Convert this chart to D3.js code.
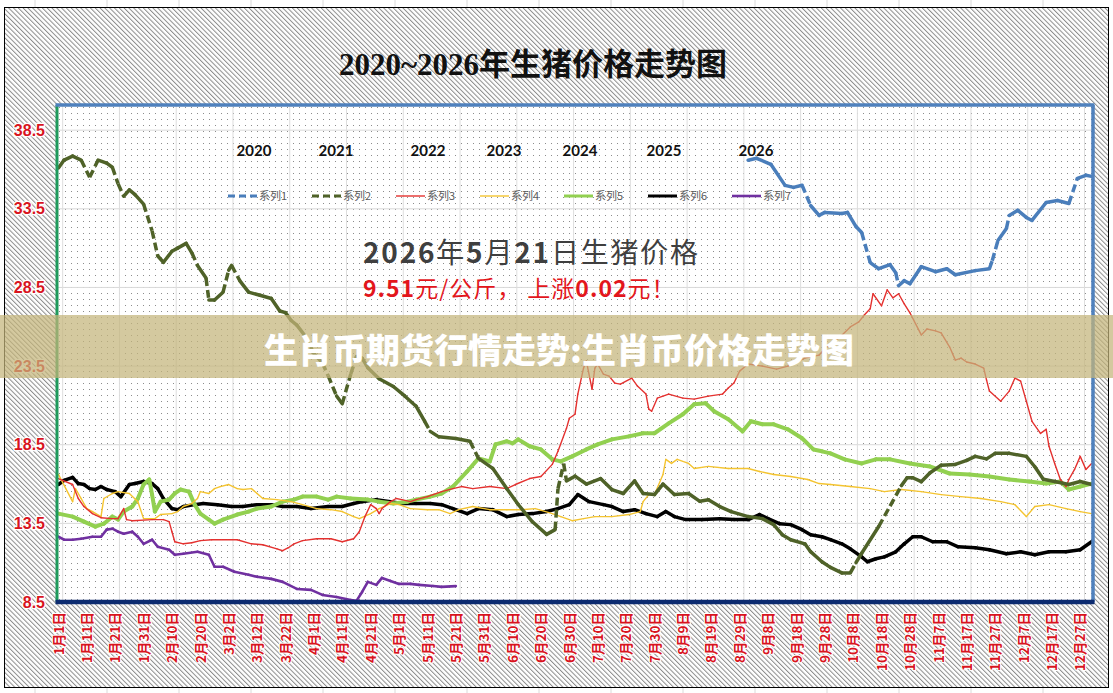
<!DOCTYPE html>
<html>
<head>
<meta charset="utf-8">
<script src="https://cdn.jsdelivr.net/npm/d3@7"></script>
<style>
  body { margin: 0; background: #fff; }
  svg { display: block; }
</style>
</head>
<body>
<div id="vis"></div>
<script>
// x labels every 10 days (365-day year)
const xLabels = ["1月1日","1月11日","1月21日","1月31日","2月10日","2月20日","3月2日","3月12日","3月22日",
    "4月1日","4月11日","4月21日","5月1日","5月11日","5月21日","5月31日","6月10日","6月20日","6月30日",
    "7月10日","7月20日","7月30日","8月9日","8月19日","8月29日","9月8日","9月18日","9月28日",
    "10月8日","10月18日","10月28日","11月7日","11月17日","11月27日","12月7日","12月17日","12月27日"];
const yTicks = [8.5, 13.5, 18.5, 23.5, 28.5, 33.5, 38.5];
const seriesNames = ["系列1","系列2","系列3","系列4","系列5","系列6","系列7"];
const yearLabels = ["2020","2021","2022","2023","2024","2025","2026"];

// [day of year, price]
const s1 = [[243,36.59],[246,36.71],[251,36.33],[256,34.99],[259,34.86],[262,35.0],[265,33.71],[268,33.08],[270,33.27],[276,33.2],[278,33.27],[281,32.37],[283,31.99],[286,30.08],[289,29.69],[293,29.95],[295,29.44],[296,28.61],[298,28.93],[300,28.74],[304,29.82],[309,29.5],[313,29.69],[316,29.31],[323,29.57],[328,29.69],[329,30.2],[331,31.48],[334,32.25],[335,33.08],[338,33.4],[341,32.95],[343,32.76],[348,33.9],[352,34.03],[356,33.84],[359,35.44],[362,35.63],[364,35.56]];
const s2 = [[0,36.1],[2,36.6],[5,36.85],[8,36.6],[11,35.5],[14,36.6],[17,36.4],[19,36.14],[21,35.1],[23,34.3],[25,34.7],[27,34.4],[30,33.8],[33,32.1],[35,30.5],[37,30.1],[40,30.8],[42,31.0],[45,31.3],[47,30.7],[49,29.9],[52,29.1],[53,27.7],[55,27.7],[58,28.2],[60,29.6],[61,29.9],[64,28.9],[67,28.2],[71,28.0],[75,27.8],[78,27.0],[80,26.9],[82,26.4],[84,26.1],[87,25.4],[90,24.3],[93,23.7],[95,22.9],[98,21.6],[100,21.1],[103,23.0],[105,24.1],[107,24.0],[109,23.4],[113,22.7],[118,22.2],[122,21.6],[126,20.95],[129,20.0],[131,19.35],[134,19.0],[140,18.9],[145,18.72],[148,17.63],[153,17.0],[158,15.7],[162,14.7],[167,13.6],[172,12.8],[175,13.1],[176,15.7],[178,17.3],[179,16.2],[182,16.5],[186,16.0],[191,16.35],[195,15.65],[199,15.4],[203,16.2],[206,15.4],[210,15.33],[213,16.0],[217,15.33],[222,15.4],[226,14.9],[229,15.0],[233,14.57],[237,14.25],[243,13.93],[248,13.8],[252,13.42],[255,12.78],[258,12.46],[263,12.2],[265,11.7],[269,11.06],[272,10.7],[276,10.35],[279,10.35],[281,11.0],[283,11.6],[289,13.3],[293,14.6],[297,15.9],[299,16.4],[301,16.4],[304,16.15],[307,16.7],[311,17.2],[316,17.25],[320,17.5],[323,17.76],[327,17.6],[330,17.95],[335,17.95],[341,17.76],[344,17.1],[347,16.3],[351,16.16],[356,15.97],[360,16.16],[364,15.97]];
const s3 = [[0,16.35],[5,15.97],[7,15.08],[9,14.57],[12,14.12],[15,13.86],[19,13.8],[21,13.8],[23,14.44],[24,13.74],[26,13.67],[33,13.74],[37,13.74],[39,13.61],[40,12.97],[41,12.33],[44,12.2],[47,12.27],[50,12.4],[54,12.46],[63,12.46],[68,12.2],[72,12.14],[77,11.88],[79,11.76],[81,11.95],[83,12.2],[86,12.4],[91,12.52],[96,12.52],[100,12.33],[104,12.52],[106,12.97],[108,13.93],[110,14.69],[112,14.44],[113,14.12],[114,14.44],[117,14.88],[119,15.08],[121,15.01],[124,14.88],[126,15.01],[130,15.2],[132,15.33],[135,15.52],[139,15.71],[142,15.84],[146,15.71],[152,15.84],[158,15.71],[161,15.97],[166,16.35],[170,16.48],[174,17.25],[176,18.08],[179,19.54],[180,20.18],[182,20.44],[183,21.72],[185,23.37],[186,23.82],[188,22.03],[189,23.37],[190,23.63],[192,22.99],[194,22.86],[196,22.42],[198,22.35],[202,22.74],[204,22.23],[207,21.72],[208,20.76],[209,20.63],[211,21.46],[213,21.59],[215,21.72],[220,21.46],[224,21.4],[229,21.59],[234,21.72],[236,22.1],[238,22.42],[240,23.18],[243,23.63],[248,23.5],[253,23.31],[257,23.5],[263,24.01],[268,24.2],[271,24.78],[275,25.29],[279,25.99],[282,26.31],[284,26.76],[286,27.14],[287,28.1],[290,27.33],[292,28.35],[294,27.84],[296,28.1],[298,27.46],[300,26.89],[304,25.48],[306,25.86],[309,25.74],[311,25.61],[314,24.71],[316,23.88],[318,24.01],[320,23.76],[323,23.63],[326,23.37],[327,22.61],[328,21.91],[332,21.27],[335,21.91],[337,22.74],[339,22.54],[341,21.27],[343,19.99],[346,19.22],[348,19.48],[349,18.4],[351,17.31],[353,16.29],[355,15.84],[356,16.29],[358,16.93],[360,17.76],[362,16.93],[364,17.31]];
const s4 = [[0,16.61],[5,14.88],[6,15.71],[8,15.08],[10,14.44],[12,14.25],[15,13.93],[16,15.08],[19,15.4],[21,15.52],[25,15.4],[28,14.88],[30,13.8],[34,13.8],[36,14.06],[40,14.12],[42,14.25],[44,14.57],[47,14.76],[49,15.08],[50,15.52],[53,15.4],[55,15.71],[57,15.84],[60,15.97],[63,15.71],[65,15.65],[68,15.71],[70,15.4],[72,15.08],[77,15.01],[82,14.88],[86,14.69],[91,14.44],[96,14.37],[100,14.25],[104,13.93],[106,13.8],[110,14.12],[113,14.44],[117,14.76],[120,14.69],[124,14.44],[130,14.37],[134,14.37],[138,14.12],[141,14.37],[146,14.57],[152,14.37],[158,14.37],[163,14.37],[168,14.44],[174,14.12],[177,13.93],[181,13.67],[185,13.8],[189,13.93],[195,13.93],[201,14.06],[205,14.25],[206,14.88],[208,15.33],[210,15.33],[213,16.61],[214,17.57],[216,17.31],[218,17.57],[222,17.31],[224,16.99],[229,17.12],[236,16.99],[243,16.99],[247,16.8],[252,16.61],[258,16.48],[264,16.29],[268,16.03],[272,15.97],[279,15.84],[286,15.71],[291,15.52],[297,15.65],[304,15.52],[311,15.33],[318,15.2],[325,15.08],[332,14.88],[337,14.69],[341,13.93],[344,14.57],[349,14.69],[355,14.44],[360,14.25],[364,14.12]];
const s5 = [[0,14.12],[5,13.93],[9,13.61],[13,13.29],[16,13.48],[19,13.93],[21,13.74],[23,14.25],[26,14.57],[28,15.08],[30,15.97],[32,16.29],[33,15.33],[34,14.25],[36,14.88],[39,15.01],[41,15.4],[43,15.65],[46,15.52],[48,14.69],[50,14.12],[53,13.74],[55,13.48],[58,13.74],[63,14.06],[67,14.25],[70,14.44],[75,14.57],[79,14.88],[83,15.01],[86,15.2],[91,15.2],[95,15.01],[98,15.2],[103,15.08],[109,15.01],[113,14.88],[118,14.76],[123,14.88],[126,15.01],[131,15.2],[135,15.4],[139,15.84],[144,16.8],[148,17.63],[152,17.44],[154,18.52],[158,18.72],[160,18.59],[162,18.84],[166,18.4],[170,18.2],[174,17.57],[177,17.44],[181,17.76],[186,18.2],[190,18.52],[195,18.84],[201,19.03],[206,19.23],[210,19.23],[215,19.86],[220,20.44],[224,21.08],[228,21.14],[231,20.63],[236,20.12],[241,19.35],[244,19.99],[248,19.8],[252,19.8],[257,19.48],[262,18.91],[266,18.2],[269,18.08],[272,17.95],[277,17.57],[283,17.31],[288,17.57],[293,17.57],[300,17.31],[307,17.12],[314,16.67],[321,16.61],[328,16.48],[335,16.29],[342,16.16],[348,16.03],[353,16.16],[356,15.65],[360,15.84],[364,16.03]];
const s6 = [[0,15.97],[2,16.23],[5,16.42],[7,16.03],[9,15.97],[11,15.71],[13,15.65],[15,15.84],[17,15.65],[20,15.52],[22,15.2],[25,15.97],[27,16.03],[30,16.16],[33,16.03],[35,15.71],[37,15.08],[40,14.44],[42,14.37],[44,14.57],[48,14.69],[51,14.76],[56,14.69],[61,14.57],[65,14.57],[70,14.69],[75,14.69],[79,14.57],[84,14.57],[89,14.44],[95,14.57],[100,14.57],[104,14.76],[107,14.88],[112,15.01],[117,14.88],[121,14.76],[126,14.76],[131,14.76],[135,14.69],[139,14.44],[144,14.12],[148,14.44],[153,14.37],[158,13.93],[162,14.06],[167,14.12],[172,14.25],[176,14.44],[180,14.69],[183,15.33],[187,14.88],[192,14.69],[195,14.57],[199,14.25],[203,14.37],[207,14.12],[211,13.93],[214,14.25],[217,13.93],[221,13.74],[227,13.74],[233,13.8],[238,13.74],[243,13.74],[247,14.06],[250,13.8],[254,13.48],[258,13.42],[262,13.1],[265,12.78],[269,12.65],[272,12.46],[276,12.2],[279,11.88],[283,11.37],[285,11.06],[288,11.25],[291,11.37],[295,11.69],[298,12.2],[301,12.65],[304,12.65],[308,12.33],[313,12.33],[317,12.01],[323,11.95],[328,11.82],[334,11.57],[339,11.69],[344,11.5],[349,11.69],[355,11.69],[360,11.82],[364,12.33]];
const s7 = [[0,12.65],[2,12.46],[5,12.46],[8,12.52],[12,12.65],[15,12.65],[17,13.1],[19,13.16],[21,12.97],[23,12.84],[26,12.97],[28,12.65],[30,12.2],[33,12.46],[35,12.01],[39,11.82],[41,11.5],[44,11.57],[49,11.69],[53,11.5],[55,10.74],[58,10.74],[62,10.42],[67,10.23],[70,10.1],[75,9.97],[79,9.78],[84,9.33],[89,9.27],[93,8.95],[98,8.82],[103,8.63],[105,8.57],[107,9.14],[109,9.78],[112,9.59],[114,10.03],[117,9.84],[120,9.65],[124,9.65],[127,9.59],[132,9.52],[135,9.46],[140,9.51]];

(function () {
    const W = 1113, H = 693;
    const margin = { top: 105, right: 20, bottom: 91, left: 57 };
    const width = W - margin.left - margin.right;
    const height = H - margin.top - margin.bottom;

    const series = [
        { data: s1, color: "#4a7ebb", width: 3.5, dashed: true },
        { data: s2, color: "#4f6228", width: 3.5, dashed: true },
        { data: s3, color: "#e4312f", width: 1.4 },
        { data: s4, color: "#f4c430", width: 1.4 },
        { data: s5, color: "#92d050", width: 4 },
        { data: s6, color: "#000000", width: 3.5 },
        { data: s7, color: "#7030a0", width: 2.6 }
    ];

    const root = d3.select("#vis").append("svg")
        .attr("width", W)
        .attr("height", H);

    const defs = root.append("defs");
    const hatch = defs.append("pattern")
        .attr("id", "hatch")
        .attr("patternUnits", "userSpaceOnUse")
        .attr("width", 3.4).attr("height", 3.4)
        .attr("patternTransform", "rotate(-45)");
    hatch.append("rect").attr("width", 3.4).attr("height", 3.4).attr("fill", "#ffffff");
    hatch.append("line").attr("x1", 0.5).attr("y1", 0).attr("x2", 0.5).attr("y2", 3.4)
        .attr("stroke", "#8c8c8c").attr("stroke-width", 1);

    const dots = defs.append("pattern")
        .attr("id", "dots")
        .attr("patternUnits", "userSpaceOnUse")
        .attr("width", 6).attr("height", 6);
    dots.append("rect").attr("width", 6).attr("height", 6).attr("fill", "#ffffff");
    dots.append("rect").attr("x", 2).attr("y", 2).attr("width", 1).attr("height", 1).attr("fill", "#8c8c8c");

    // sheet gridlines behind the chart
    for (let gx = 35; gx < W; gx += 72) {
        root.append("line").attr("x1", gx).attr("x2", gx).attr("y1", 0).attr("y2", H)
            .attr("stroke", "#dadada").attr("stroke-width", 1);
    }

    // chart area
    root.append("rect")
        .attr("x", 4.5).attr("y", 7.5)
        .attr("width", 1104).attr("height", 680)
        .attr("fill", "url(#hatch)")
        .attr("stroke", "#000").attr("stroke-width", 1);

    root.append("text")
        .attr("x", 533).attr("y", 75)
        .attr("text-anchor", "middle")
        .style("font-family", "'Liberation Serif', 'Noto Sans CJK SC', serif")
        .style("font-weight", "bold")
        .style("font-size", "31px")
        .attr("fill", "#111")
        .text("2020~2026年生猪价格走势图");

    const svg = root.append("g")
        .attr("transform", `translate(${margin.left},${margin.top})`);

    svg.append("rect")
        .attr("width", width).attr("height", height)
        .attr("fill", "url(#dots)");

    const x = d3.scaleLinear().domain([-0.5, 364.5]).range([0, width]);
    const y = d3.scaleLinear().domain([8.5, 40.1]).range([height, 0]);

    // gridlines
    svg.append("g").selectAll("line")
        .data(yTicks.slice(1))
        .join("line")
        .attr("x1", 0).attr("x2", width)
        .attr("y1", d => y(d)).attr("y2", d => y(d))
        .attr("stroke", "#d9d9d9").attr("stroke-width", 1);

    svg.append("g").selectAll("line")
        .data(d3.range(1.5, 364, 20))
        .join("line")
        .attr("x1", d => x(d)).attr("x2", d => x(d))
        .attr("y1", 0).attr("y2", height)
        .attr("stroke", "#dedede").attr("stroke-width", 1);

    // year header and legend
    const yearX = [254, 336, 428, 504, 580, 664, 756];
    root.append("g").selectAll("text")
        .data(yearLabels)
        .join("text")
        .attr("x", (d, i) => yearX[i]).attr("y", 156)
        .attr("text-anchor", "middle")
        .style("font-family", "Lato, 'Liberation Sans', sans-serif")
        .style("font-weight", "bold")
        .style("font-size", "15px")
        .attr("fill", "#111")
        .text(d => d);

    const legend = root.append("g").attr("transform", "translate(228,196)");
    seriesNames.forEach((name, i) => {
        const s = series[i];
        const g = legend.append("g").attr("transform", `translate(${i * 84},0)`);
        g.append("line")
            .attr("x1", 0).attr("x2", 29).attr("y1", 0).attr("y2", 0)
            .attr("stroke", s.color)
            .attr("stroke-width", Math.min(s.width, 3))
            .attr("stroke-dasharray", s.dashed ? "7,4" : null);
        g.append("text")
            .attr("x", 31).attr("y", 0).attr("dy", "0.35em")
            .style("font-family", "'Noto Sans CJK SC', sans-serif")
            .style("font-size", "11px")
            .attr("fill", "#595959")
            .text(name);
    });

    // annotation
    const note = root.append("text")
        .attr("x", 363).attr("y", 263)
        .style("font-family", "'Noto Sans CJK SC', sans-serif")
        .style("font-size", "28px")
        .style("letter-spacing", "1.8px")
        .attr("fill", "#3f3f3f");
    [["2026", true], ["年", false], ["5", true], ["月", false], ["21", true], ["日生猪价格", false]]
        .forEach(([t, b]) => note.append("tspan").style("font-weight", b ? "bold" : "normal").text(t));

    const note2 = root.append("text")
        .attr("x", 363).attr("y", 297)
        .style("font-family", "'Noto Sans CJK SC', sans-serif")
        .style("font-size", "23px")
        .style("letter-spacing", "1px")
        .attr("fill", "#e3161c");
    [["9.51", true], ["元/公斤，  上涨", false], ["0.02", true], ["元！", false]]
        .forEach(([t, b]) => note2.append("tspan").style("font-weight", b ? "bold" : "normal").text(t));

    // series, each segment on its own so steep parts of dashed series break up
    const line = d3.line()
        .x(d => x(d[0]))
        .y(d => y(d[1]));

    series.slice().reverse().forEach(s => {
        const g = svg.append("g");
        for (let i = 0; i < s.data.length - 1; i++) {
            const a = s.data[i], b = s.data[i + 1];
            const steep = s.dashed && Math.abs(y(b[1]) - y(a[1])) / (b[0] - a[0]) > 5;
            g.append("path")
                .datum([a, b])
                .attr("d", line)
                .attr("fill", "none")
                .attr("stroke", s.color)
                .attr("stroke-width", s.width)
                .attr("stroke-linecap", steep ? "butt" : "round")
                .attr("stroke-dasharray", steep ? "8,4" : null);
        }
    });

    // axis lines / plot border
    svg.append("line").attr("x1", 0).attr("x2", 0).attr("y1", 0).attr("y2", height)
        .attr("stroke", "#1f9a5c").attr("stroke-width", 3);
    svg.append("line").attr("x1", -1.5).attr("x2", width + 1.5).attr("y1", 0).attr("y2", 0)
        .attr("stroke", "#4f81bd").attr("stroke-width", 3.5);
    svg.append("line").attr("x1", width).attr("x2", width).attr("y1", 0).attr("y2", height)
        .attr("stroke", "#4f81bd").attr("stroke-width", 3.5);
    svg.append("line").attr("x1", -1.5).attr("x2", width + 1.5).attr("y1", height).attr("y2", height)
        .attr("stroke", "#0c2b70").attr("stroke-width", 4.5);

    // axes
    const yAxis = svg.append("g")
        .call(d3.axisLeft(y).tickValues(yTicks).tickSize(0).tickPadding(12).tickFormat(d3.format(".1f")));
    yAxis.select(".domain").remove();
    yAxis.selectAll("text")
        .style("font-family", "'Liberation Sans', sans-serif")
        .style("font-weight", "bold")
        .style("font-size", "16px")
        .attr("fill", "#d8141e")
        .attr("stroke", "#fff").attr("stroke-width", 2.5)
        .style("paint-order", "stroke");

    const xAxis = svg.append("g")
        .attr("transform", `translate(0,${height})`)
        .call(d3.axisBottom(x).tickValues(d3.range(0, 361, 10)).tickSize(0)
            .tickFormat((d, i) => xLabels[i]));
    xAxis.select(".domain").remove();
    xAxis.selectAll("text")
        .attr("transform", "rotate(-90)")
        .attr("x", -10).attr("y", 0).attr("dy", "0.35em")
        .attr("text-anchor", "end")
        .style("font-family", "'Noto Sans CJK SC', sans-serif")
        .style("font-weight", "bold")
        .style("font-size", "13.5px")
        .attr("fill", "#d8141e")
        .attr("stroke", "#fff").attr("stroke-width", 2)
        .style("paint-order", "stroke");

    // overlay banner
    root.append("rect")
        .attr("x", 0).attr("y", 315)
        .attr("width", W).attr("height", 63)
        .attr("fill", "rgb(196,180,122)")
        .attr("opacity", 0.72);
    root.append("text")
        .attr("x", 559).attr("y", 348)
        .attr("text-anchor", "middle")
        .attr("dominant-baseline", "central")
        .style("font-family", "'Noto Sans CJK SC', sans-serif")
        .style("font-weight", "900")
        .style("font-size", "34px")
        .attr("fill", "#ffffff")
        .text("生肖币期货行情走势:生肖币价格走势图");
})();
</script>
</body>
</html>
